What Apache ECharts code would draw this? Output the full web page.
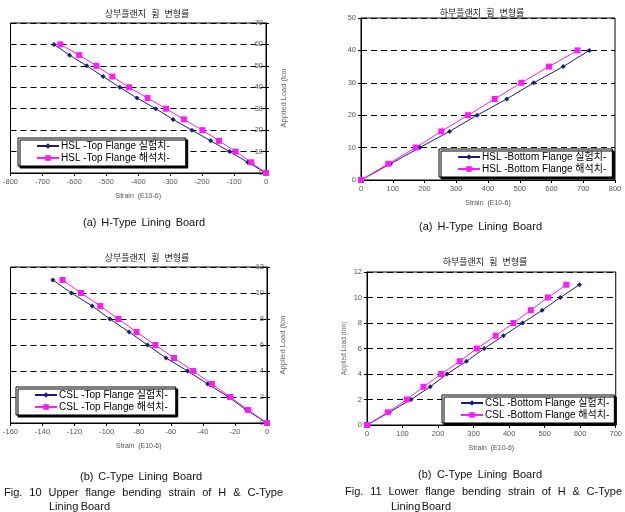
<!DOCTYPE html>
<html>
<head>
<meta charset="utf-8">
<script src="https://cdn.jsdelivr.net/npm/echarts@6/dist/echarts.min.js"></script>
<style>
  html, body { margin: 0; padding: 0; background: #fff; }
  #main { width: 625px; height: 512px; }
</style>
</head>
<body>
<div id="main"></div>
<script>
// 하중 단계 (ton)
const loadH = [0, 5, 10, 15, 20, 25, 30, 35, 40, 45, 50, 55, 60]
const loadHB = [0, 5, 10, 15, 20, 25, 30, 35, 40]
const loadC = [0, 1, 2, 3, 4, 5, 6, 7, 8, 9, 10, 11]

// (a) H-Type 상부플랜지
const hTopExp = [0, -57, -114, -173, -232, -291, -345, -404, -458, -510, -561, -615, -664]
const hTopAna = [0, -46, -95, -147, -199, -257, -313, -371, -429, -481, -531, -585, -644]
// (a) H-Type 하부플랜지
const hBotExp = [0, 93, 185, 279, 366, 459, 544, 637, 719]
const hBotAna = [0, 86, 172, 253, 337, 421, 505, 592, 682]
// (b) C-Type 상부플랜지
const cTopExp = [0, -12.8, -24, -37, -49.6, -63, -74.5, -86, -98, -109, -122, -133.6]
const cTopAna = [0, -11.7, -22.9, -34.4, -46, -58, -69.6, -81.4, -92.7, -104, -116, -127.5]
// (b) C-Type 하부플랜지
const cBotExp = [0, 63, 124, 178, 225, 280, 330, 384, 438, 493, 544, 598]
const cBotAna = [0, 58.5, 112, 159, 209, 261, 309, 362, 412, 461, 509, 561]

const names = [
  ['HSL -Top Flange 실험치-', 'HSL -Top Flange 해석치-'],
  ['HSL -Bottom Flange 실험치-', 'HSL -Bottom Flange 해석치-'],
  ['CSL -Top Flange 실험치-', 'CSL -Top Flange 해석치-'],
  ['CSL -Bottom Flange 실험치-', 'CSL -Bottom Flange 해석치-']
]
const titleText = '상부플랜지  휨  변형률'
const titleText2 = '하부플랜지  휨  변형률'

const NAVY = '#1c1c7a'
const MAGENTA = '#ff19ff'
const FONT = '"Liberation Sans", "Noto Sans CJK KR", sans-serif'

function pairs(xs, ys) {
  return xs.map(function(x, i) { return [x, ys[i]] })
}

function expSeries(name, idx, data) {
  return {
    name: name, type: 'line', xAxisIndex: idx, yAxisIndex: idx, data: data,
    symbol: 'diamond', symbolSize: 5, animation: false,
    lineStyle: { color: NAVY, width: 1 }, itemStyle: { color: NAVY }
  }
}
function anaSeries(name, idx, data) {
  return {
    name: name, type: 'line', xAxisIndex: idx, yAxisIndex: idx, data: data,
    symbol: 'rect', symbolSize: 6, animation: false,
    lineStyle: { color: MAGENTA, width: 1 }, itemStyle: { color: MAGENTA }
  }
}

function xAx(idx, min, max, interval) {
  return {
    type: 'value', gridIndex: idx, min: min, max: max, interval: interval,
    name: 'Strain  (E10-6)', nameLocation: 'middle', nameGap: 20,
    nameTextStyle: { fontSize: 7, color: '#555', fontFamily: FONT },
    axisLine: { show: true, onZero: false, lineStyle: { color: '#000' } },
    axisTick: { show: true, length: 3, lineStyle: { color: '#000' } },
    axisLabel: { fontSize: 7.5, color: '#555', margin: 5, fontFamily: FONT },
    splitLine: { show: false }
  }
}
function yAx(idx, max, interval, opts) {
  const a = {
    type: 'value', gridIndex: idx, min: 0, max: max, interval: interval,
    axisLine: { show: true, onZero: false, lineStyle: { color: '#000' } },
    axisTick: { show: true, length: 3, lineStyle: { color: '#000' } },
    axisLabel: { fontSize: 7.5, color: '#555', margin: 5, fontFamily: FONT },
    splitLine: { show: true, lineStyle: { color: '#000', type: [6, 4], width: 1 } },
    nameTextStyle: { fontSize: 7.5, color: '#666', fontFamily: FONT }
  }
  return Object.assign(a, opts || {})
}

function legendBox(idx, left, top, padRight) {
  return {
    data: names[idx], orient: 'vertical', left: left, top: top,
    itemWidth: 22, itemHeight: 7, itemGap: 2,
    padding: [3, padRight, 3, 18],
    backgroundColor: '#fff', borderColor: '#000', borderWidth: 1,
    shadowColor: '#000', shadowBlur: 0, shadowOffsetX: 2, shadowOffsetY: 2,
    textStyle: { fontSize: 10, color: '#000', fontFamily: FONT, padding: [0, 0, 0, -3] }
  }
}

// 양쪽 맞춤 캡션
const measureCtx = document.createElement('canvas').getContext('2d')
function justify(text, x0, x1, y, size) {
  const font = size + 'px "Liberation Sans", sans-serif'
  measureCtx.font = font
  const words = text.split(' ')
  const widths = words.map(function(w) { return measureCtx.measureText(w).width })
  const total = widths.reduce(function(a, b) { return a + b }, 0)
  const gap = words.length > 1 ? (x1 - x0 - total) / (words.length - 1) : 0
  let x = x0
  return words.map(function(w, i) {
    const el = {
      type: 'text', x: x, y: y,
      style: { text: w, font: font, fill: '#111', textVerticalAlign: 'middle' }
    }
    x += widths[i] + gap
    return el
  })
}

const captions = [].concat(
  justify('(a) H-Type Lining Board', 83, 205, 223, 11),
  justify('(a) H-Type Lining Board', 419, 542, 227, 11),
  justify('(b) C-Type Lining Board', 80, 202, 477, 11),
  justify('Fig. 10 Upper flange bending strain of H & C-Type', 4, 283, 493, 11),
  justify('Lining Board', 49, 110, 507, 11),
  justify('(b) C-Type Lining Board', 418, 542, 475, 11),
  justify('Fig. 11 Lower flange bending strain of H & C-Type', 345, 622, 492, 11),
  justify('Lining Board', 391, 451, 507, 11)
)

const chart = echarts.init(document.getElementById('main'))
chart.clear()

const titleStyle = { fontSize: 9, fontWeight: 'normal', color: '#222', fontFamily: FONT }

const option = {
  backgroundColor: '#fff',
  animation: false,
  title: [
    { text: titleText, left: 142, top: 5, textAlign: 'center', textStyle: titleStyle },
    { text: titleText2, left: 477, top: 4, textAlign: 'center', textStyle: titleStyle },
    { text: titleText, left: 142, top: 249, textAlign: 'center', textStyle: titleStyle },
    { text: titleText2, left: 480, top: 253, textAlign: 'center', textStyle: titleStyle }
  ],
  grid: [
    { left: 7, top: 23, width: 259, height: 150, show: true, borderColor: '#000', borderWidth: 1, backgroundColor: 'transparent' },
    { left: 361, top: 18, width: 254, height: 162, show: true, borderColor: '#000', borderWidth: 1, backgroundColor: 'transparent' },
    { left: 4, top: 267, width: 263, height: 156, show: true, borderColor: '#000', borderWidth: 1, backgroundColor: 'transparent' },
    { left: 367, top: 272, width: 251, height: 153, show: true, borderColor: '#000', borderWidth: 1, backgroundColor: 'transparent' }
  ],
  xAxis: [
    xAx(0, -800, 0, 100),
    xAx(1, 0, 800, 100),
    xAx(2, -160, 0, 20),
    xAx(3, 0, 700, 100)
  ],
  yAxis: [
    yAx(0, 70, 10, {
      position: 'right', name: 'Applied Load (ton', nameLocation: 'middle', nameGap: 14, nameRotate: 90,
      axisLabel: { inside: true, fontSize: 7.5, color: '#555', margin: 3, fontFamily: FONT }
    }),
    yAx(1, 50, 10),
    yAx(2, 12, 2, {
      position: 'right', name: 'Applied Load (ton', nameLocation: 'middle', nameGap: 12, nameRotate: 90,
      axisLabel: { inside: true, fontSize: 7.5, color: '#555', margin: 3, fontFamily: FONT }
    }),
    yAx(3, 12, 2, {
      name: 'Applied Load (ton)', nameLocation: 'middle', nameGap: 20, nameRotate: 90,
      nameTextStyle: { fontSize: 6.5, color: '#666', fontFamily: FONT }
    })
  ],
  legend: [
    legendBox(0, 18, 138, 16),
    legendBox(1, 439, 149, 6),
    legendBox(2, 16, 387, 8),
    legendBox(3, 442, 395, 5)
  ],
  series: [
    expSeries(names[0][0], 0, pairs(hTopExp, loadH)),
    anaSeries(names[0][1], 0, pairs(hTopAna, loadH)),
    expSeries(names[1][0], 1, pairs(hBotExp, loadHB)),
    anaSeries(names[1][1], 1, pairs(hBotAna, loadHB)),
    expSeries(names[2][0], 2, pairs(cTopExp, loadC)),
    anaSeries(names[2][1], 2, pairs(cTopAna, loadC)),
    expSeries(names[3][0], 3, pairs(cBotExp, loadC)),
    anaSeries(names[3][1], 3, pairs(cBotAna, loadC))
  ],
  graphic: captions
}

chart.setOption(option)
</script>
</body>
</html>
